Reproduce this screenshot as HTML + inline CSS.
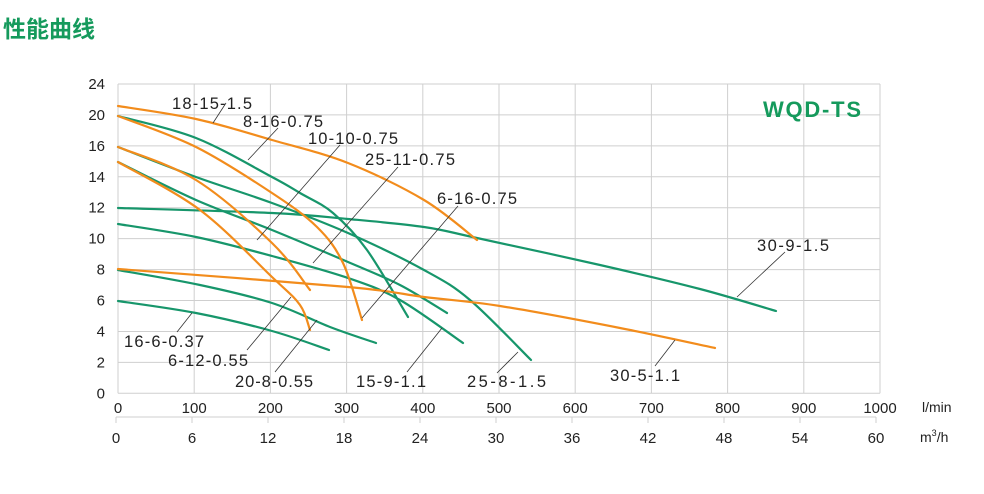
<!DOCTYPE html>
<html><head><meta charset="utf-8"><style>
html,body{margin:0;padding:0;background:#fff;}
svg text{font-family:"Liberation Sans","Noto Sans CJK SC",sans-serif;}
</style></head><body>
<svg id="s" width="984" height="489" viewBox="0 0 984 489" xmlns="http://www.w3.org/2000/svg">
<text x="3" y="37" font-size="23" font-weight="bold" fill="#159a5c" font-family="'Noto Sans CJK SC',sans-serif">性能曲线</text>
<g id="grid" stroke="#cfcfcf" stroke-width="1"></g>
<g id="curves" fill="none" stroke-width="2.2" stroke-linecap="round"></g>
<g id="leaders" stroke="#333" stroke-width="0.8"></g>
<g font-size="16.5" fill="#222">
<text x="172" y="109" textLength="80">18-15-1.5</text>
<text x="243" y="127" textLength="80">8-16-0.75</text>
<text x="308" y="144" textLength="90">10-10-0.75</text>
<text x="365" y="165" textLength="90">25-11-0.75</text>
<text x="437" y="204" textLength="80">6-16-0.75</text>
<text x="757" y="251" textLength="72">30-9-1.5</text>
<text x="124" y="347" textLength="80">16-6-0.37</text>
<text x="168" y="366" textLength="80">6-12-0.55</text>
<text x="235" y="387" textLength="78">20-8-0.55</text>
<text x="356" y="387" textLength="70">15-9-1.1</text>
<text x="467" y="387" textLength="79">25-8-1.5</text>
<text x="610" y="381" textLength="70">30-5-1.1</text>
</g>
<text x="763" y="117" font-size="22" font-weight="bold" fill="#159a5c" textLength="98">WQD-TS</text>
<g id="labels" font-size="15" fill="#222"></g>
<text x="922" y="412" font-size="14" fill="#222">l/min</text>
<text x="920" y="442" font-size="14" fill="#222">m<tspan font-size="9" dy="-6">3</tspan><tspan dy="6">/h</tspan></text>
</svg>
<script>
var NS="http://www.w3.org/2000/svg";
function el(p,t,a){var e=document.createElementNS(NS,t);for(var k in a)e.setAttribute(k,a[k]);document.getElementById(p).appendChild(e);return e;}
var x0=118,dx=76.2,y0=84,dy=30.93;
for(var i=0;i<=10;i++){el("grid","line",{x1:x0,x2:x0+10*dx,y1:y0+i*dy,y2:y0+i*dy});}
for(var i=0;i<=10;i++){el("grid","line",{x1:x0+i*dx,x2:x0+i*dx,y1:y0,y2:y0+10*dy});}
var yl=["24","20","16","14","12","10","8","6","4","2","0"];
for(var i=0;i<=10;i++){var t=el("labels","text",{x:105,y:y0+i*dy+5,"text-anchor":"end"});t.textContent=yl[i];}
for(var i=0;i<=10;i++){var t=el("labels","text",{x:x0+i*dx,y:413,"text-anchor":"middle"});t.textContent=String(i*100);}
el("grid","line",{x1:116,x2:876,y1:417,y2:417});
for(var i=0;i<=10;i++){var xx=116+i*76;el("grid","line",{x1:xx,x2:xx,y1:417,y2:423});var t=el("labels","text",{x:xx,y:443,"text-anchor":"middle"});t.textContent=String(i*6);}
function smooth(p){var d="M"+p[0][0]+","+p[0][1];for(var i=0;i<p.length-1;i++){var a=p[i-1]||p[i],b=p[i],c=p[i+1],e=p[i+2]||c;
d+=" C"+(b[0]+(c[0]-a[0])/6)+","+(b[1]+(c[1]-a[1])/6)+" "+(c[0]-(e[0]-b[0])/6)+","+(c[1]-(e[1]-b[1])/6)+" "+c[0]+","+c[1];}return d;}
var G="#17966b",O="#f28c1c";
var C=[
[G,[[118,208],[272,213],[348,219],[424,227],[477,238],[600,265],[700,289],[776,311]]],
[G,[[118,224],[196,237],[272,256],[348,278],[400,300],[463,343]]],
[G,[[118,147],[196,177],[272,203],[348,233],[424,270],[470,300],[531,360]]],
[G,[[118,162],[196,200],[272,230],[348,262],[400,285],[447,313]]],
[G,[[118,116],[196,138],[272,177],[300,193],[333,213],[367,250],[408,317]]],
[G,[[118,270],[200,285],[272,303],[330,327],[376,343]]],
[G,[[118,301],[196,313],[272,331],[329,350]]],
[O,[[118,269],[348,287],[424,297],[500,306],[620,328],[715,348]]],
[O,[[118,106],[196,119],[272,140],[348,163],[424,200],[477,240]]],
[O,[[118,116],[196,147],[272,193],[317,227],[343,263],[362,320]]],
[O,[[118,147],[196,180],[272,243],[310,290]]],
[O,[[118,162],[200,210],[272,277],[300,305],[310,330]]]
];
C.forEach(function(c){el("curves","path",{d:smooth(c[1]),stroke:c[0]});});
var L=[[226,103,213,123],[278,128,248,160],[340,145,257,240],[398,167,313,263],[458,206,362,318],[785,252,737,297],[192,313,177,332],[291,297,247,350],[317,320,275,372],[442,328,407,372],[518,352,497,373],[675,340,655,366]];
L.forEach(function(l){el("leaders","line",{x1:l[0],y1:l[1],x2:l[2],y2:l[3]});});
</script>
</body></html>
